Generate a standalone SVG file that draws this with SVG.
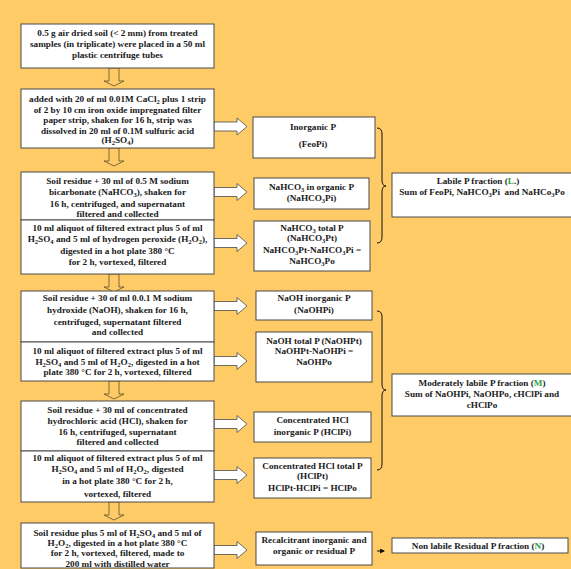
<svg xmlns="http://www.w3.org/2000/svg" width="571" height="569" viewBox="0 0 571 569">
<style>
.bg{fill:#FECB66}
.box{fill:#fff;stroke:#4a4a4a;stroke-width:1}
.t{font-family:"Liberation Serif","Times New Roman",serif;font-weight:bold;font-size:9.2px;fill:#1a1a1a;text-anchor:middle}
.s{font-size:6.5px;baseline-shift:-1.8px}
.g{fill:#2E9E4A}
.da{fill:#FECB66;stroke:#5a5030;stroke-width:0.8}
.ra{fill:#fff;stroke:#4a4a4a;stroke-width:0.8}
.br{fill:none;stroke:#111;stroke-width:1}
</style>
<defs>
<path id="down" d="M-5,0 V13 H-10 L0,18 L10,13 H5 V0 Z"/>
<path id="right" d="M0,-4.5 H23 V-8.5 L33,0 L23,8.5 V4.5 H0 Z"/>
<marker id="ah" markerWidth="5" markerHeight="5" refX="4" refY="2.5" orient="auto" markerUnits="userSpaceOnUse"><path d="M0,0 L5,2.5 L0,5 Z" fill="#111"/></marker>
</defs>
<rect class="bg" x="0" y="0" width="571" height="569"/>

<g id="connectors">
<use href="#down" class="da" x="114" y="68"/>
<use href="#down" class="da" x="114" y="148"/>
<use href="#down" class="da" x="114" y="274"/>
<use href="#down" class="da" x="114" y="381"/>
<use href="#down" class="da" x="114" y="502"/>
<use href="#right" class="ra" x="214" y="126.5"/>
<use href="#right" class="ra" x="214" y="192"/>
<use href="#right" class="ra" x="214" y="243"/>
<use href="#right" class="ra" x="214" y="306"/>
<use href="#right" class="ra" x="214" y="361"/>
<use href="#right" class="ra" x="214" y="424"/>
<use href="#right" class="ra" x="214" y="475"/>
<use href="#right" class="ra" x="214" y="550"/>
<path class="br" d="M377,128 Q382,128 382,134 L382,180 Q382,186 386,186 Q382,186 382,192 L382,237 Q382,243 377,243"/>
<path class="br" d="M377,311 Q382,311 382,317 L382,384 Q382,390 386,390 Q382,390 382,396 L382,464 Q382,470 377,470"/>
<line x1="377" y1="551" x2="384" y2="551" stroke="#111" stroke-width="1" marker-end="url(#ah)"/>
</g>

<g id="step1">
<rect class="box" x="21" y="24" width="193" height="44"/>
<text class="t" x="117.5" y="36">0.5 g air dried soil (&lt; 2 mm) from treated</text>
<text class="t" x="117.5" y="47">samples (in triplicate) were placed in a 50 ml</text>
<text class="t" x="117.5" y="57.5">plastic centrifuge tubes</text>
</g>

<g id="step2">
<rect class="box" x="21" y="89" width="193" height="59"/>
<text class="t" x="117.5" y="102">added with 20 of ml 0.01M CaCl<tspan class="s">2</tspan> plus 1 strip</text>
<text class="t" x="117.5" y="112.5">of 2 by 10 cm iron oxide impregnated filter</text>
<text class="t" x="117.5" y="123">paper strip, shaken for 16 h, strip was</text>
<text class="t" x="117.5" y="133.5">dissolved in 20 ml of 0.1M sulfuric acid</text>
<text class="t" x="117.5" y="143">(H<tspan class="s">2</tspan>SO<tspan class="s">4</tspan>)</text>
</g>

<g id="step3">
<rect class="box" x="21" y="172" width="193" height="48"/>
<text class="t" x="117.5" y="184">Soil residue + 30 ml of 0.5 M sodium</text>
<text class="t" x="117.5" y="195">bicarbonate (NaHCO<tspan class="s">3</tspan>), shaken for</text>
<text class="t" x="117.5" y="207">16 h, centrifuged, and supernatant</text>
<text class="t" x="117.5" y="217">filtered and collected</text>
</g>

<g id="step4">
<rect class="box" x="21" y="220" width="193" height="54"/>
<text class="t" x="117.5" y="231">10 ml aliquot of filtered extract plus 5 of ml</text>
<text class="t" x="117.5" y="242">H<tspan class="s">2</tspan>SO<tspan class="s">4</tspan> and 5 ml of hydrogen peroxide (H<tspan class="s">2</tspan>O<tspan class="s">2</tspan>),</text>
<text class="t" x="117.5" y="254">digested in a hot plate 380 °C</text>
<text class="t" x="117.5" y="265">for 2 h, vortexed, filtered</text>
</g>

<g id="step5">
<rect class="box" x="21" y="291" width="193" height="51"/>
<text class="t" x="117.5" y="301">Soil residue + 30 of ml 0.0.1 M sodium</text>
<text class="t" x="117.5" y="313">hydroxide (NaOH), shaken for 16 h,</text>
<text class="t" x="117.5" y="324.5">centrifuged, supernatant filtered</text>
<text class="t" x="117.5" y="335">and collected</text>
</g>

<g id="step6">
<rect class="box" x="21" y="342" width="193" height="39"/>
<text class="t" x="117.5" y="354">10 ml aliquot of filtered extract plus 5 of ml</text>
<text class="t" x="117.5" y="364.5">H<tspan class="s">2</tspan>SO<tspan class="s">4</tspan> and 5 ml of H<tspan class="s">2</tspan>O<tspan class="s">2</tspan>, digested in a hot</text>
<text class="t" x="117.5" y="375">plate 380 °C for 2 h, vortexed, filtered</text>
</g>

<g id="step7">
<rect class="box" x="21" y="401" width="193" height="50"/>
<text class="t" x="117.5" y="413">Soil residue + 30 ml of concentrated</text>
<text class="t" x="117.5" y="423.5">hydrochloric acid (HCl), shaken for</text>
<text class="t" x="117.5" y="434.5">16 h, centrifuged, supernatant</text>
<text class="t" x="117.5" y="445">filtered and collected</text>
</g>

<g id="step8">
<rect class="box" x="21" y="451" width="193" height="51"/>
<text class="t" x="117.5" y="461">10 ml aliquot of filtered extract plus 5 of ml</text>
<text class="t" x="117.5" y="472">H<tspan class="s">2</tspan>SO<tspan class="s">4</tspan> and 5 ml of H<tspan class="s">2</tspan>O<tspan class="s">2</tspan>, digested</text>
<text class="t" x="117.5" y="483.5">in a hot plate 380 °C for 2 h,</text>
<text class="t" x="117.5" y="497">vortexed, filtered</text>
</g>

<g id="step9">
<rect class="box" x="21" y="523" width="193" height="45"/>
<text class="t" x="117.5" y="535.5">Soil residue plus 5 ml of H<tspan class="s">2</tspan>SO<tspan class="s">4</tspan> and 5 ml of</text>
<text class="t" x="117.5" y="545.5">H<tspan class="s">2</tspan>O<tspan class="s">2</tspan>, digested in a hot plate 380 °C</text>
<text class="t" x="117.5" y="556">for 2 h, vortexed, filtered, made to</text>
<text class="t" x="117.5" y="566.5">200 ml with distilled water</text>
</g>

<g id="feopi">
<rect class="box" x="253" y="117" width="122" height="41"/>
<text class="t" x="313" y="129.5">Inorganic P</text>
<text class="t" x="313" y="147">(FeoPi)</text>
</g>

<g id="nahco3pi">
<rect class="box" x="254" y="178" width="115" height="31"/>
<text class="t" x="311.5" y="190">NaHCO<tspan class="s">3</tspan> in organic P</text>
<text class="t" x="311.5" y="201">(NaHCO<tspan class="s">3</tspan>Pi)</text>
</g>

<g id="nahco3pt">
<rect class="box" x="254" y="221" width="116" height="50"/>
<text class="t" x="312" y="231">NaHCO<tspan class="s">3</tspan> total P</text>
<text class="t" x="312" y="241">(NaHCO<tspan class="s">3</tspan>Pt)</text>
<text class="t" x="312" y="253">NaHCO<tspan class="s">3</tspan>Pt-NaHCO<tspan class="s">3</tspan>Pi =</text>
<text class="t" x="312" y="264">NaHCO<tspan class="s">3</tspan>Po</text>
</g>

<g id="naohpi">
<rect class="box" x="256" y="291" width="116" height="29"/>
<text class="t" x="314" y="301">NaOH inorganic P</text>
<text class="t" x="314" y="313">(NaOHPi)</text>
</g>

<g id="naohpt">
<rect class="box" x="256" y="332" width="116" height="50"/>
<text class="t" x="314" y="344">NaOH total P (NaOHPt)</text>
<text class="t" x="314" y="354">NaOHPt-NaOHPi =</text>
<text class="t" x="314" y="364.5">NaOHPo</text>
</g>

<g id="hclpi">
<rect class="box" x="254" y="412" width="117" height="30"/>
<text class="t" x="312.5" y="423">Concentrated HCl</text>
<text class="t" x="312.5" y="434.5">inorganic P (HClPi)</text>
</g>

<g id="hclpt">
<rect class="box" x="254" y="458" width="117" height="40"/>
<text class="t" x="312.5" y="468.5">Concentrated HCl total P</text>
<text class="t" x="312.5" y="478.5">(HClPt)</text>
<text class="t" x="312.5" y="491">HClPt-HClPi = HClPo</text>
</g>

<g id="residual">
<rect class="box" x="256" y="532" width="116" height="33"/>
<text class="t" x="314" y="543">Recalcitrant inorganic and</text>
<text class="t" x="314" y="554">organic or residual P</text>
</g>

<g id="labile">
<rect class="box" x="392" y="173" width="182" height="44"/>
<text class="t" x="478" y="184">Labile P fraction (<tspan class="g">L</tspan>.)</text>
<text class="t" x="482" y="194.5">Sum of FeoPi, NaHCO<tspan class="s">3</tspan>Pi&#160; and NaHCo<tspan class="s">3</tspan>Po</text>
</g>

<g id="moderate">
<rect class="box" x="392" y="374" width="182" height="42"/>
<text class="t" x="482" y="385.5">Moderately labile P fraction (<tspan class="g">M</tspan>)</text>
<text class="t" x="482" y="397">Sum of NaOHPi, NaOHPo, cHClPi and</text>
<text class="t" x="482" y="408">cHClPo</text>
</g>

<g id="nonlabile">
<rect class="box" x="392" y="538" width="176" height="15"/>
<text class="t" x="478" y="548.5">Non labile Residual P fraction (<tspan class="g">N</tspan>)</text>
</g>
</svg>
